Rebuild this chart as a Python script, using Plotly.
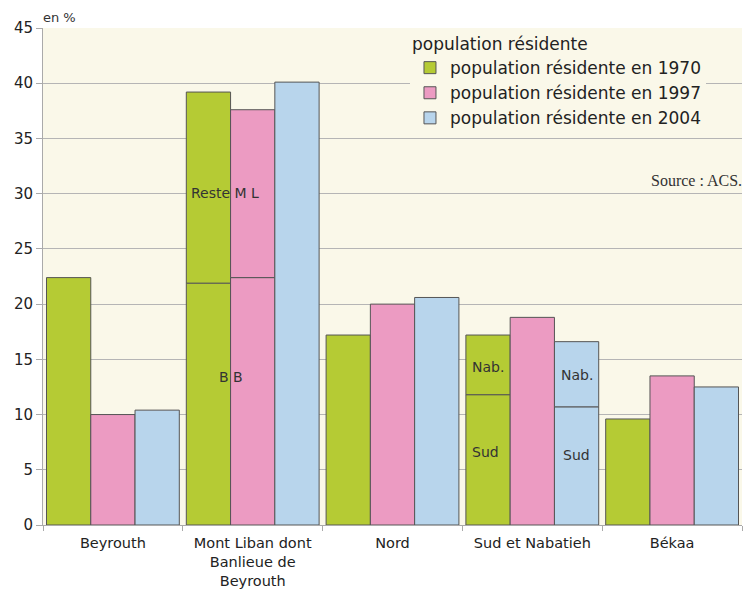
import plotly.graph_objects as go

categories = ["Beyrouth", "Mont Liban dont<br>Banlieue de<br>Beyrouth", "Nord", "Sud et Nabatieh", "Békaa"]
years = ["1970", "1997", "2004"]
total_1970 = [22.4, 39.2, 17.2, 17.2, 9.6]
total_1997 = [10.0, 37.6, 20.0, 18.8, 13.5]
total_2004 = [10.4, 40.1, 20.6, 16.6, 12.5]
# lower segment (Banlieue de Beyrouth / Sud) where a bar is split
lower_1970 = [None, 21.9, None, 11.8, None]
lower_1997 = [None, 22.4, None, None, None]
lower_2004 = [None, None, None, 10.7, None]
y_ticks = [0, 5, 10, 15, 20, 25, 30, 35, 40, 45]

colors = {"1970": "#b5cb34", "1997": "#ec9bc2", "2004": "#b8d5ec"}
totals = {"1970": total_1970, "1997": total_1997, "2004": total_2004}
lowers = {"1970": lower_1970, "1997": lower_1997, "2004": lower_2004}

xs = list(range(len(categories)))
fig = go.Figure()
line = dict(color="#555555", width=1)
for yr in years:
    tot = totals[yr]
    low = lowers[yr]
    bottom = [l if l is not None else t for t, l in zip(tot, low)]
    top = [(t - l) if l is not None else None for t, l in zip(tot, low)]
    fig.add_trace(go.Bar(x=xs, y=bottom, name="population résidente en " + yr,
                         marker=dict(color=colors[yr], line=line), offsetgroup=yr))
    fig.add_trace(go.Bar(x=xs, y=top, base=bottom, showlegend=False,
                         marker=dict(color=colors[yr], line=line), offsetgroup=yr,
                         hoverinfo="skip"))

bargap = 0.05
w = (1 - bargap) / 3
font = "DejaVu Sans"
ann = []
def lab(text, x, y, size=14):
    ann.append(dict(x=x, y=y, xref="x", yref="y", text=text, showarrow=False,
                    font=dict(family=font, size=size, color="#333333")))
lab("Reste M L", 1 - w / 2 - 0.04, 30.1)
lab("B B", 1 - w / 2, 13.4)
lab("Nab.", 3 - w, 14.3)
lab("Sud", 3 - w - 0.02, 6.6)
lab("Nab.", 3 + w, 13.6)
lab("Sud", 3 + w, 6.3)
ann.append(dict(x=0, y=1, xref="paper", yref="paper", text="en %", showarrow=False,
                xanchor="left", yanchor="bottom", yshift=1, xshift=-2,
                font=dict(family=font, size=13, color="#333333")))
ann.append(dict(x=1.0, y=31.2, xref="paper", yref="y", text="Source : ACS.", showarrow=False,
                xanchor="right", yanchor="middle", xshift=2,
                font=dict(family="Liberation Serif", size=16, color="#333333")))

fig.update_layout(
    width=746, height=592,
    barmode="group", bargap=bargap, bargroupgap=0,
    paper_bgcolor="white", plot_bgcolor="#faf8e9",
    margin=dict(l=43, r=4, t=28, b=67),
    font=dict(family=font, size=14, color="#222222"),
    annotations=ann,
    legend=dict(x=0.525, y=1.0, xanchor="left", yanchor="top",
                bgcolor="#faf8e9", font=dict(size=17, family=font, color="#222222"),
                title=dict(text="population résidente", font=dict(size=17, family=font)),
                tracegroupgap=0, itemwidth=30),
    xaxis=dict(tickmode="array", tickvals=xs, ticktext=categories, range=[-0.5, 4.5],
               showgrid=False, ticks="", showline=True, linecolor="#aaaaaa",
               tickfont=dict(size=14.5), ticklabelstandoff=5, automargin=False,
               minor=dict(tickmode="array", tickvals=[i - 0.5 for i in range(6)], ticks="outside",
                          ticklen=5, tickcolor="#aaaaaa")),
    yaxis=dict(range=[0, 45], tickvals=y_ticks, showgrid=True, gridcolor="#b5b5b5",
               showline=True, linecolor="#aaaaaa", ticks="outside", ticklen=6,
               tickcolor="#aaaaaa", tickfont=dict(size=15), zeroline=False, automargin=False),
)
fig.write_html("out.html", config={"displayModeBar": False},
               post_script="document.body.style.margin='0';document.body.style.overflow='hidden';")
